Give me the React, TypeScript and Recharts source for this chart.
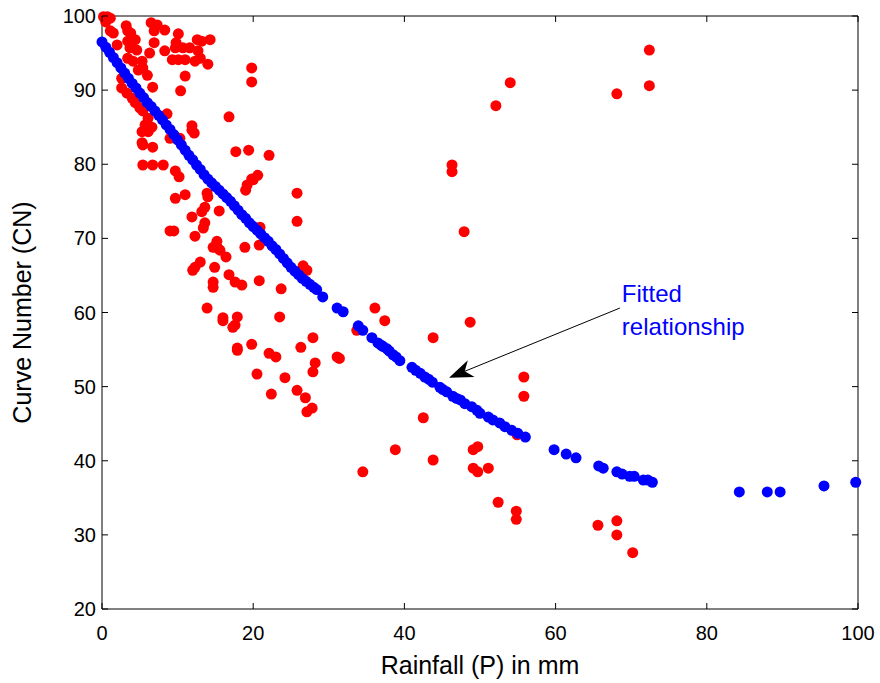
import { ReferenceLine, Scatter, ScatterChart, XAxis, YAxis } from "recharts";

// observed (P mm, CN) pairs
const observedP = [
  0.2, 0.7, 1.1, 0.5, 1.1, 1.5, 3.2, 3.4, 3.8, 6.5, 7.3, 6.9, 8.3, 10.1, 12.6, 13.2, 14.3,
  9.8, 9.7, 10.7, 11.6, 6.9, 6.3, 8.3, 9.3, 10.1, 11.0, 12.7, 13.0, 12.3, 14.0,
  3.4, 4.4, 3.7, 4.6, 2.0, 3.4, 4.1, 5.3, 5.4, 4.8, 6.0, 11.0, 6.7, 10.4,
  2.6, 2.6, 3.3, 4.0, 4.4, 5.0, 5.4, 8.6, 6.1, 5.7, 11.9, 19.8, 19.8, 16.8,
  11.9, 12.2, 6.6, 6.1, 5.3, 5.4, 6.7, 5.3, 9.0, 10.3, 5.4, 6.7, 8.1,
  17.7, 19.4, 22.1, 9.7, 10.2, 19.2, 20.0, 20.6, 19.8, 19.0, 25.8,
  11.0, 9.7, 13.9, 14.0, 13.6, 13.2, 11.9, 15.5, 13.6, 13.4, 12.3, 9.0, 9.5,
  15.2, 14.7, 15.3, 25.8, 15.6, 16.4, 18.9, 20.8, 20.9,
  13.0, 12.3, 12.0, 14.9, 16.8, 17.6, 18.5, 14.7, 14.7, 20.8, 23.7, 26.6, 27.1,
  13.9, 16.0, 17.9, 23.5, 16.0, 17.6, 17.3, 17.9, 17.9, 19.8, 22.1, 23.0, 26.3, 27.9,
  31.1, 31.4, 28.2, 27.9, 20.5, 24.2, 22.4, 25.8, 26.9, 27.8, 27.1,
  36.1, 37.4, 33.7, 43.8, 48.7, 42.5, 38.8, 43.8, 34.5,
  49.1, 49.7, 49.1, 49.7, 51.1, 52.4, 54.8, 54.8, 54.9, 55.8, 55.8,
  65.6, 68.1, 68.1, 70.2, 54.0, 52.1, 72.4, 72.4, 68.1, 46.3, 46.3, 47.9,
];
const observedCN = [
  99.9, 99.9, 99.7, 99.2, 98.0, 97.7, 98.7, 98.0, 97.7, 99.1, 98.8, 98.0, 98.1, 97.6, 96.8, 96.6, 96.8,
  96.4, 95.7, 95.7, 95.7, 96.4, 95.0, 95.3, 94.1, 94.1, 94.1, 95.3, 94.3, 93.9, 93.5,
  96.6, 96.8, 95.7, 95.4, 96.1, 94.3, 93.9, 93.9, 93.0, 92.7, 92.0, 91.9, 90.4, 89.9,
  91.6, 90.3, 89.6, 88.9, 88.3, 87.6, 87.2, 86.8, 86.2, 85.3, 85.2, 93.0, 91.1, 86.4,
  84.6, 84.2, 85.0, 84.4, 84.4, 82.6, 82.3, 82.9, 83.5, 83.5, 79.9, 79.9, 79.9,
  81.7, 81.9, 81.2, 79.1, 78.3, 77.2, 77.9, 78.5, 78.0, 76.5, 76.1,
  75.9, 75.4, 76.1, 75.6, 74.2, 73.6, 72.9, 73.7, 72.1, 71.4, 70.3, 71.0, 71.0,
  69.6, 68.8, 68.7, 72.3, 68.4, 67.5, 68.8, 69.1, 71.5,
  66.8, 66.1, 65.7, 66.1, 65.1, 64.1, 63.7, 64.1, 63.4, 64.3, 63.2, 66.3, 65.7,
  60.6, 59.3, 59.4, 59.4, 58.9, 58.3, 58.0, 55.2, 54.9, 55.7, 54.5, 54.0, 55.3, 56.6,
  54.0, 53.8, 53.2, 52.0, 51.7, 51.2, 49.0, 49.5, 48.5, 47.1, 46.6,
  60.6, 58.9, 57.6, 56.6, 58.7, 45.8, 41.5, 40.1, 38.5,
  41.5, 41.9, 39.0, 38.5, 39.0, 34.4, 33.2, 32.1, 43.5, 51.3, 48.7,
  31.3, 31.9, 30.0, 27.6, 91.0, 87.9, 95.4, 90.6, 89.5, 79.9, 79.0, 70.9,
];

// fitted relationship points
const fittedP = [
  0, 0.5, 1, 1.5, 2, 2.5, 3, 3.5, 4, 4.5, 5, 5.5, 6, 6.5, 7, 7.5, 8, 8.5, 9, 9.5,
  10, 10.5, 11, 11.5, 12, 12.5, 13, 13.5, 14, 14.5, 15, 15.5, 16, 16.5, 17, 17.5, 18, 18.5, 19, 19.5,
  20, 20.5, 21, 21.5, 22, 22.5, 23, 23.5, 24, 24.5, 25, 25.5, 26, 26.5, 27, 27.5, 28, 28.4,
  29.2, 31.1, 31.9, 33.9, 34.5, 35.7, 36.5, 36.9, 37.2, 37.7, 38.0, 38.5, 38.9, 39.4,
  41.0, 41.5, 42.1, 42.7, 43.2, 43.7, 44.7, 45.1, 45.6, 46.4, 46.9, 47.4, 48.0, 48.9, 49.6, 50.0,
  51.1, 51.7, 52.6, 53.3, 54.2, 55.0, 56.0, 59.8, 61.4, 62.7, 65.7, 66.3, 68.1, 68.8, 69.8, 70.4,
  71.6, 72.2, 72.8, 84.3, 88.0, 89.7, 95.5, 99.7,
];
const fittedCN = [
  96.5, 95.8, 95.1, 94.4, 93.7, 93.0, 92.3, 91.6, 90.9, 90.3, 89.6, 89.0, 88.3, 87.8, 87.2, 86.6, 86.0, 85.3, 84.7, 84.0,
  83.3, 82.6, 81.9, 81.2, 80.6, 79.9, 79.3, 78.6, 78.0, 77.5, 77.0, 76.5, 76.0, 75.5, 75.0, 74.4, 73.8, 73.2, 72.7, 72.1,
  71.6, 71.1, 70.6, 70.1, 69.6, 69.0, 68.5, 67.9, 67.3, 66.7, 66.1, 65.6, 65.1, 64.6, 64.2, 63.8, 63.4, 63.1,
  62.1, 60.6, 60.1, 58.2, 57.6, 56.6, 55.9, 55.6, 55.4, 55.1, 54.8, 54.3, 54.0, 53.5,
  52.6, 52.2, 51.8, 51.3, 51.0, 50.6, 49.9, 49.6, 49.3, 48.7, 48.4, 48.2, 47.7, 47.3, 46.8, 46.4,
  45.9, 45.5, 45.1, 44.6, 44.1, 43.7, 43.2, 41.5, 40.9, 40.4, 39.3, 39.0, 38.5, 38.2, 37.9, 37.9,
  37.4, 37.4, 37.1, 35.8, 35.8, 35.8, 36.6, 37.1,
];

const xTicks = [0, 20, 40, 60, 80, 100];
const yTicks = [20, 30, 40, 50, 60, 70, 80, 90, 100];
// arrow from the annotation text to the curve
const arrowFrom = { P: 68.5, CN: 60.6 };
const arrowTo = { P: 45.9, CN: 51.2 };

const observed = observedP.map((p, i) => ({ p, cn: observedCN[i] }));
const fitted = fittedP.map((p, i) => ({ p, cn: fittedCN[i] }));

const FONT = "'Liberation Sans', Arial, sans-serif";
const TICK = 6;

const dot = (color: string) => (props: any) => <circle cx={props.cx} cy={props.cy} r={5.5} fill={color} />;

const BottomTick = ({ x, y, payload }: any) => (
  <g>
    <line x1={x} y1={y} x2={x} y2={y - TICK} stroke="#000" />
    <text x={x} y={y + 24} textAnchor="middle" dominantBaseline="central" fontSize={20} fontFamily={FONT} fill="#000">{payload.value}</text>
  </g>
);
const LeftTick = ({ x, y, payload }: any) => (
  <g>
    <line x1={x} y1={y} x2={x + TICK} y2={y} stroke="#000" />
    <text x={x - 6} y={y} textAnchor="end" dominantBaseline="central" fontSize={20} fontFamily={FONT} fill="#000">{payload.value}</text>
  </g>
);
const TopTick = ({ x, y }: any) => <line x1={x} y1={y} x2={x} y2={y + TICK} stroke="#000" />;
const RightTick = ({ x, y }: any) => <line x1={x} y1={y} x2={x - TICK} y2={y} stroke="#000" />;

const Arrow = ({ x1, y1, x2, y2 }: any) => {
  const len = Math.hypot(x1 - x2, y1 - y2);
  const ux = (x1 - x2) / len, uy = (y1 - y2) / len;
  const nx = -uy, ny = ux;
  const L = 24, W = 9, N = 17;
  const pts = [
    [x2, y2],
    [x2 + ux * L + nx * W, y2 + uy * L + ny * W],
    [x2 + ux * N, y2 + uy * N],
    [x2 + ux * L - nx * W, y2 + uy * L - ny * W],
  ].map((q) => q.join(",")).join(" ");
  return (
    <g>
      <line x1={x1} y1={y1} x2={x2 + ux * N} y2={y2 + uy * N} stroke="#000" strokeWidth={1} />
      <polygon points={pts} fill="#000" />
      <text x={x1 + 2} y={y1 - 15} dominantBaseline="central" fontSize={24} fontFamily={FONT} fill="#0000ff">Fitted</text>
      <text x={x1 + 2} y={y1 + 18} dominantBaseline="central" fontSize={24} fontFamily={FONT} fill="#0000ff">relationship</text>
    </g>
  );
};

export default function App() {
  return (
    <div style={{ position: "absolute", left: 0, top: 0, background: "#fff" }}>
      <ScatterChart width={880} height={683} margin={{ top: 15, right: 21, bottom: 0, left: 0 }}>
        <XAxis dataKey="p" type="number" domain={[0, 100]} ticks={xTicks} height={74} stroke="#000"
          tickLine={false} tickSize={0} tickMargin={0} tick={<BottomTick />}
          label={({ viewBox }: any) => (
            <text x={viewBox.x + viewBox.width / 2} y={viewBox.y + 56} textAnchor="middle" dominantBaseline="central" fontSize={25} fontFamily={FONT}>Rainfall (P) in mm</text>
          )} />
        <XAxis xAxisId="top" orientation="top" dataKey="p" type="number" domain={[0, 100]} ticks={xTicks} height={1} stroke="#000"
          tickLine={false} tickSize={0} tickMargin={0} tick={<TopTick />} />
        <YAxis dataKey="cn" type="number" domain={[20, 100]} ticks={yTicks} width={102} stroke="#000"
          tickLine={false} tickSize={0} tickMargin={0} tick={<LeftTick />}
          label={({ viewBox }: any) => (
            <text x={viewBox.x + 22} y={viewBox.y + viewBox.height / 2} textAnchor="middle" dominantBaseline="central" fontSize={25} fontFamily={FONT}
              transform={`rotate(-90 ${viewBox.x + 22} ${viewBox.y + viewBox.height / 2})`}>Curve Number (CN)</text>
          )} />
        <YAxis yAxisId="right" orientation="right" dataKey="cn" type="number" domain={[20, 100]} ticks={yTicks} width={1} stroke="#000"
          tickLine={false} tickSize={0} tickMargin={0} tick={<RightTick />} />
        <Scatter data={observed} shape={dot("#ff0000")} isAnimationActive={false} />
        <Scatter data={fitted} shape={dot("#0000ff")} isAnimationActive={false} />
        {/* invisible series keeps the box axes on top and right alive */}
        <Scatter data={fitted} xAxisId="top" yAxisId="right" shape={() => null} isAnimationActive={false} legendType="none" />
        <ReferenceLine segment={[{ x: arrowFrom.P, y: arrowFrom.CN }, { x: arrowTo.P, y: arrowTo.CN }]} shape={<Arrow />} ifOverflow="visible" />
      </ScatterChart>
    </div>
  );
}
